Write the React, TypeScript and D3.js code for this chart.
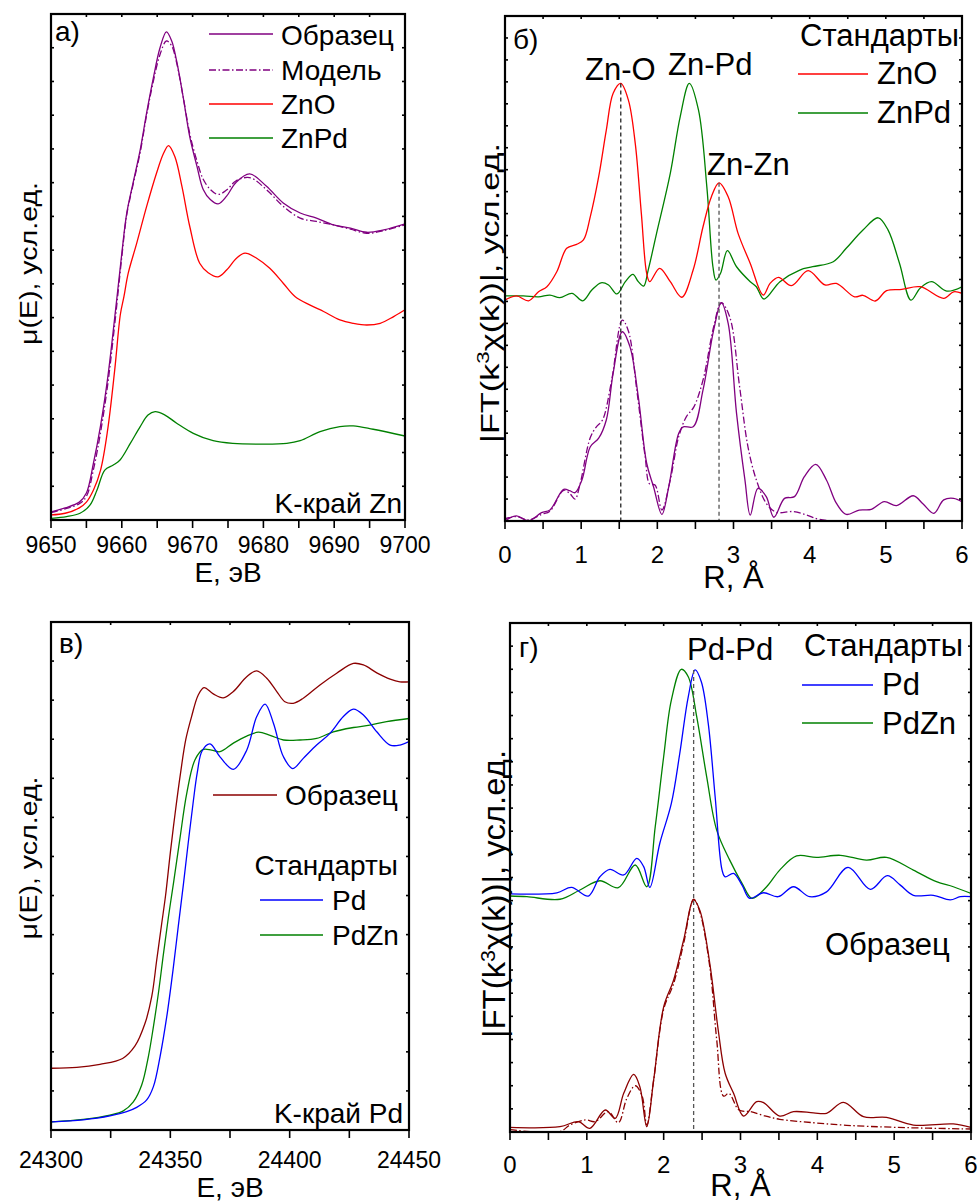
import React from 'react';
import * as d3 from 'd3';

type Pt = [number, number];

// а) XANES, K-край Zn  (E, эВ ; μ(E), усл.ед.)
const aSample: Pt[] = [
  [9650, 0.24], [9652, 0.36], [9654, 0.53], [9655, 0.8], [9656, 1.69], [9657, 2.8], [9658, 4.2],
  [9659, 6.0], [9660, 7.9], [9660.7, 9.1], [9661.6, 10.0], [9662.6, 10.97], [9663.5, 12.06],
  [9664.45, 13.1], [9665.4, 14.0], [9666.3, 14.47], [9667.05, 14.2], [9667.75, 13.6], [9668.7, 12.5],
  [9669.6, 11.36], [9670.6, 10.5], [9671.5, 9.8], [9672.5, 9.5], [9673.6, 9.37], [9674.8, 9.6],
  [9676.1, 10.0], [9678.05, 10.26], [9680.4, 9.9], [9682.8, 9.4], [9685.2, 9.1], [9687.5, 8.95],
  [9689.9, 8.75], [9692.3, 8.65], [9694.6, 8.53], [9697, 8.6], [9700, 8.78],
];
const aModel: Pt[] = [
  [9650, 0.22], [9652, 0.33], [9654, 0.48], [9655, 0.7], [9656, 1.5], [9657, 2.6], [9658, 4.0],
  [9659, 5.8], [9660, 7.8], [9660.7, 9.05], [9661.6, 9.95], [9662.6, 10.9], [9663.5, 12.0],
  [9664.45, 13.0], [9665.4, 13.8], [9666.3, 14.2], [9667.05, 14.05], [9667.75, 13.55], [9668.7, 12.5],
  [9669.6, 11.45], [9670.6, 10.65], [9671.5, 10.1], [9672.5, 9.8], [9673.6, 9.65], [9674.8, 9.78],
  [9676.1, 10.05], [9678.05, 10.15], [9680.4, 9.8], [9682.8, 9.3], [9685.2, 8.95], [9687.5, 8.85],
  [9689.9, 8.75], [9692.3, 8.62], [9694.6, 8.5], [9697, 8.58], [9700, 8.75],
];
const aZnO: Pt[] = [
  [9650, 0.15], [9652, 0.2], [9654, 0.36], [9655, 0.53], [9656, 0.89], [9657, 1.48], [9658, 2.67],
  [9659, 4.45], [9659.8, 6.1], [9660.3, 6.62], [9660.9, 7.31], [9662.1, 8.2], [9663.5, 9.29],
  [9664.9, 10.28], [9665.9, 10.87], [9666.6, 11.1], [9667.5, 10.77], [9668.5, 9.88], [9669.6, 8.7],
  [9671, 7.61], [9672.2, 7.33], [9673.6, 7.21], [9674.8, 7.41], [9676.2, 7.76], [9677.4, 7.91],
  [9679.05, 7.76], [9680.9, 7.46], [9682.8, 7.02], [9684.5, 6.62], [9686.6, 6.37], [9688.5, 6.18],
  [9690.8, 5.93], [9692.7, 5.83], [9694.6, 5.78], [9696.5, 5.83], [9698.4, 6.03], [9700, 6.23],
];
const aZnPd: Pt[] = [
  [9650.1, 0.05], [9652.2, 0.1], [9654.1, 0.2], [9655.5, 0.44], [9656.5, 0.89], [9657.6, 1.48],
  [9658.8, 1.63], [9659.75, 1.78], [9661.2, 2.27], [9662.6, 2.77], [9663.7, 3.11], [9664.7, 3.21],
  [9666.1, 3.11], [9667.75, 2.87], [9670.1, 2.57], [9672.9, 2.35], [9675.7, 2.27], [9679.5, 2.25],
  [9683.3, 2.27], [9685.2, 2.35], [9688, 2.62], [9690.8, 2.77], [9692.7, 2.79], [9695.5, 2.69],
  [9700, 2.49],
];

// б) |FT|, Zn  (R, Å)
const bZnO: Pt[] = [
  [0, 10.06], [0.15, 10.25], [0.31, 10.03], [0.44, 10.44], [0.55, 10.67], [0.68, 11.35], [0.81, 12.42],
  [0.94, 12.6], [1.03, 12.8], [1.12, 13.86], [1.23, 15.68], [1.33, 17.8], [1.42, 19.48], [1.52, 19.93],
  [1.62, 19.17], [1.71, 17.2], [1.79, 14.01], [1.86, 11.28], [1.9, 10.9], [2.03, 11.51], [2.17, 10.9],
  [2.32, 10.19], [2.47, 11.43], [2.6, 13.4], [2.71, 14.77], [2.81, 15.4], [2.93, 14.77], [3.06, 13.1],
  [3.22, 11.73], [3.39, 10.29], [3.48, 10.82], [3.59, 11.1], [3.76, 10.72], [3.98, 11.4], [4.2, 10.75],
  [4.35, 10.82], [4.59, 10.21], [4.7, 10.28], [4.86, 10.02], [5.01, 10.49], [5.21, 10.55], [5.45, 10.67],
  [5.76, 10.14], [5.89, 10.44], [6, 10.37],
];
const bZnPd: Pt[] = [
  [0, 10.25], [0.24, 10.25], [0.44, 10.21], [0.59, 10.29], [0.72, 10.17], [0.88, 10.37], [1.02, 10.03],
  [1.14, 10.52], [1.26, 10.85], [1.36, 10.75], [1.47, 10.34], [1.58, 10.9], [1.68, 11.23], [1.75, 10.9],
  [1.82, 10.7], [1.88, 11.43], [1.99, 13.1], [2.17, 15.83], [2.3, 18.41], [2.42, 19.93], [2.54, 18.72],
  [2.65, 15.22], [2.73, 11.58], [2.77, 10.97], [2.83, 11.28], [2.92, 12.31], [3.04, 11.58], [3.22, 10.9],
  [3.3, 10.67], [3.4, 10.11], [3.61, 10.9], [3.87, 11.43], [4.04, 11.58], [4.31, 11.81], [4.48, 12.42],
  [4.7, 13.25], [4.9, 13.81], [5.03, 13.25], [5.18, 11.73], [5.33, 10.06], [5.45, 10.6], [5.6, 10.9],
  [5.8, 10.47], [6, 10.67],
];
const bSample: Pt[] = [
  [0, 0.01], [0.15, 0.23], [0.31, 0.01], [0.48, 0.38], [0.59, 0.5], [0.77, 1.44], [0.85, 1.38],
  [0.92, 1.29], [1.01, 1.87], [1.12, 3.38], [1.23, 3.77], [1.33, 4.6], [1.42, 6.73], [1.54, 8.62],
  [1.64, 7.94], [1.75, 5.66], [1.86, 2.63], [1.95, 1.56], [2.06, 0.3], [2.15, 1.56], [2.28, 3.99],
  [2.34, 4.29], [2.47, 4.29], [2.6, 5.97], [2.74, 8.7], [2.84, 9.94], [2.93, 9.0], [3.04, 4.9],
  [3.15, 1.87], [3.22, 0.27], [3.32, 1.49], [3.43, 1.11], [3.53, 0.17], [3.67, 1.03], [3.8, 1.11],
  [3.93, 2.02], [4.08, 2.58], [4.22, 1.87], [4.35, 0.81], [4.48, 0.3], [4.65, 0.5], [4.81, 0.53],
  [4.98, 0.88], [5.14, 0.7], [5.36, 1.15], [5.49, 0.77], [5.63, 0.35], [5.76, 0.96], [5.89, 1.03],
  [6, 0.88],
];
const bModel: Pt[] = [
  [0, 0.1], [0.15, 0.2], [0.31, 0.05], [0.48, 0.3], [0.59, 0.45], [0.77, 1.4], [0.85, 1.25],
  [0.92, 1.0], [0.98, 1.6], [1.12, 3.8], [1.2, 4.29], [1.28, 4.6], [1.4, 6.4], [1.54, 9.15],
  [1.62, 8.65], [1.73, 5.97], [1.84, 2.93], [1.9, 1.68], [1.97, 1.64], [2.06, 0.5], [2.17, 1.87],
  [2.28, 3.83], [2.38, 4.74], [2.48, 5.2], [2.6, 6.42], [2.74, 8.85], [2.84, 9.94], [2.95, 9.3],
  [3.08, 6.12], [3.19, 3.38], [3.3, 1.87], [3.43, 0.81], [3.56, 0.4], [3.78, 0.43], [3.96, 0.27],
  [4.13, 0.07], [4.48, 0.0], [6, 0.0],
];
const bRefLines: Pt[] = [[1.52, 19.93], [2.81, 15.4]];

// в) XANES, K-край Pd
const vSample: Pt[] = [
  [24300.3, 1.58], [24310.8, 1.6], [24320.5, 1.68], [24330, 1.83], [24335.2, 2.15], [24339.4, 2.73],
  [24342.2, 3.41], [24344.3, 4.35], [24346.4, 5.29], [24348, 6.0], [24350, 7.1], [24352, 8.1],
  [24354.2, 9.1], [24356.5, 10.0], [24358.9, 10.58], [24361.7, 11.13], [24364.1, 11.32], [24368, 11.16],
  [24372.2, 11.06], [24376.4, 11.22], [24382, 11.6], [24386.2, 11.75], [24390.4, 11.56], [24394.6, 11.22],
  [24398, 10.96], [24401.5, 10.92], [24405.7, 11.05], [24412.7, 11.39], [24419.7, 11.69], [24426.7, 11.94],
  [24430.9, 11.9], [24436.5, 11.7], [24442.1, 11.54], [24446.2, 11.47], [24450, 11.47],
];
const vPd: Pt[] = [
  [24300.3, 0.21], [24313.5, 0.26], [24324.7, 0.36], [24331.7, 0.47], [24335.9, 0.58], [24340.1, 0.77],
  [24342.9, 1.11], [24345.7, 1.88], [24348.5, 2.9], [24351.3, 4.18], [24353.3, 5.2], [24355.5, 6.3],
  [24357.5, 7.35], [24359.5, 8.35], [24361.3, 9.15], [24363.3, 9.7], [24366.6, 9.88], [24370.8, 9.55],
  [24376.4, 9.23], [24382, 9.72], [24386.2, 10.58], [24389.7, 10.9], [24393.2, 10.41], [24397.4, 9.55],
  [24401.3, 9.25], [24405.7, 9.51], [24411.3, 9.85], [24416.9, 10.15], [24422.5, 10.58],
  [24426.7, 10.77], [24430.9, 10.62], [24436.5, 10.19], [24442.1, 9.85], [24446.2, 9.85], [24450, 9.94],
];
const vPdZn: Pt[] = [
  [24300.3, 0.21], [24313.5, 0.27], [24324.7, 0.38], [24330.3, 0.49], [24334.5, 0.72], [24338, 1.15],
  [24340.8, 1.88], [24342.9, 2.64], [24345, 3.5], [24347.1, 4.5], [24349.2, 5.45], [24351.4, 6.35],
  [24354, 7.45], [24356.9, 8.62], [24360.3, 9.47], [24363.8, 9.74], [24367.3, 9.72], [24370.8, 9.68],
  [24376.4, 9.9], [24382, 10.08], [24386.9, 10.18], [24391.8, 10.1], [24397.4, 9.98], [24404.3, 9.98],
  [24411.3, 10.02], [24418.3, 10.19], [24426.7, 10.3], [24433.6, 10.36], [24440.6, 10.45], [24450, 10.53],
];

// г) |FT|, Pd
const gPd: Pt[] = [
  [0, 10.29], [0.61, 10.34], [0.8, 10.57], [1.02, 10.2], [1.17, 11.03], [1.3, 11.35], [1.48, 11.11],
  [1.65, 11.83], [1.74, 11.47], [1.82, 10.57], [1.95, 12.48], [2.1, 14.2], [2.21, 16.37], [2.32, 18.81],
  [2.41, 19.97], [2.49, 19.46], [2.58, 17.66], [2.67, 14.49], [2.76, 11.32], [2.8, 11.03], [2.91, 11.18],
  [3.02, 10.67], [3.12, 10.1], [3.3, 10.34], [3.49, 10.17], [3.69, 10.6], [3.9, 10.17], [4.12, 10.38],
  [4.4, 11.44], [4.69, 10.49], [4.91, 11.08], [5.08, 10.67], [5.25, 10.23], [5.51, 10.23], [5.73, 10.03],
  [5.86, 10.17], [6, 10.17],
];
const gPdZn: Pt[] = [
  [0, 10.2], [0.22, 10.17], [0.65, 10.06], [0.91, 10.46], [1.17, 10.86], [1.41, 10.56], [1.63, 11.54],
  [1.78, 10.6], [1.89, 13.19], [2.0, 16.22], [2.1, 18.67], [2.23, 20.0], [2.32, 19.68], [2.43, 17.95],
  [2.56, 15.35], [2.69, 13.05], [2.86, 11.75], [3.02, 10.75], [3.15, 10.1], [3.34, 10.6], [3.51, 11.32],
  [3.73, 11.93], [3.99, 11.87], [4.3, 11.96], [4.64, 11.75], [4.9, 11.87], [5.25, 11.32], [5.55, 10.82],
  [5.77, 10.6], [6, 10.31],
];
const gSample: Pt[] = [
  [0, 0.2], [0.65, 0.23], [0.89, 0.45], [1.04, 0.16], [1.24, 0.95], [1.37, 0.59], [1.48, 1.67],
  [1.61, 2.49], [1.69, 1.96], [1.78, 0.23], [1.87, 2.25], [2.0, 5.41], [2.13, 6.57], [2.26, 8.3],
  [2.39, 10.03], [2.47, 9.59], [2.6, 7.29], [2.71, 4.41], [2.8, 2.54], [2.91, 1.67], [3.04, 0.69],
  [3.21, 1.31], [3.3, 1.27], [3.51, 0.69], [3.69, 0.88], [3.95, 0.83], [4.12, 0.81], [4.34, 1.28],
  [4.6, 0.66], [4.9, 0.63], [5.25, 0.3], [5.77, 0.35], [6, 0.2],
];
const gModel: Pt[] = [
  [0, 0.1], [0.65, 0.02], [0.78, 0.3], [0.98, 0.52], [1.11, 0.45], [1.28, 0.88], [1.41, 0.4],
  [1.52, 1.45], [1.63, 2.0], [1.72, 1.55], [1.78, 0.3], [1.87, 2.25], [2.0, 5.3], [2.13, 6.42],
  [2.26, 8.15], [2.39, 10.06], [2.47, 9.52], [2.6, 7.15], [2.69, 4.0], [2.78, 1.55], [2.85, 1.67],
  [2.98, 0.95], [3.13, 0.88], [3.3, 0.71], [3.51, 0.55], [3.95, 0.4], [4.38, 0.29], [5.03, 0.2],
  [6, 0.13],
];
const gRefLines: Pt[] = [[2.39, 19.97]];

const FONT = '"Liberation Sans", Arial, sans-serif';
const PURPLE = '#800080';
const RED = '#ff0000';
const GREEN = '#008000';
const BLUE = '#0000ff';
const DARKRED = '#8b0000';
const DASHDOT = '7,2.5,1.5,2.5';

type Box = { l: number; r: number; t: number; b: number };
type Series = { data: Pt[]; color: string; dash?: string };
type Scale = d3.ScaleLinear<number, number>;

function Panel(props: {
  id: string;
  box: Box;
  xDomain: [number, number];
  yMax: number;
  xMajor: number;
  xMinor: number;
  tickY: number;
  tickSize: number;
  title: React.ReactNode;
  titleY: number;
  titleSize: number;
  yLabel: React.ReactNode;
  yLabelX: number;
  yLabelCY: number;
  yLabelLen: number;
  yLabelSize: number;
  series: Series[];
  extra?: (x: Scale, y: Scale) => React.ReactNode;
}) {
  const { box, xDomain, yMax } = props;
  const x = d3.scaleLinear().domain(xDomain).range([box.l, box.r]);
  const y = d3.scaleLinear().domain([0, yMax]).range([box.b, box.t]);
  const line = d3
    .line<Pt>()
    .x((d) => x(d[0]))
    .y((d) => y(d[1]))
    .curve(d3.curveCatmullRom.alpha(0.5));
  const majors = d3.range(xDomain[0], xDomain[1] + 1e-6, props.xMajor);
  const minors = d3.range(xDomain[0], xDomain[1] + 1e-6, props.xMinor);
  const yTicks = d3.range(0, yMax + 1e-6, 1);
  const clip = `clip-${props.id}`;

  return (
    <g>
      <defs>
        <clipPath id={clip}>
          <rect x={box.l} y={box.t} width={box.r - box.l} height={box.b - box.t} />
        </clipPath>
      </defs>
      <g clipPath={`url(#${clip})`}>
        {props.series.map((s, i) => (
          <path
            key={i}
            d={line(s.data) || ''}
            fill="none"
            stroke={s.color}
            strokeWidth={1.3}
            strokeDasharray={s.dash}
          />
        ))}
      </g>
      {props.extra && props.extra(x, y)}
      <g stroke="#000" strokeWidth={1.6}>
        {minors.map((v) => (
          <line key={'b' + v} x1={x(v)} x2={x(v)} y1={box.b} y2={box.b + 8} />
        ))}
        {minors.map((v) => (
          <line key={'t' + v} x1={x(v)} x2={x(v)} y1={box.t} y2={box.t + 3} />
        ))}
        {yTicks.map((v) => (
          <line key={'l' + v} x1={box.l} x2={box.l + 3} y1={y(v)} y2={y(v)} />
        ))}
        {yTicks.map((v) => (
          <line key={'r' + v} x1={box.r - 3} x2={box.r} y1={y(v)} y2={y(v)} />
        ))}
      </g>
      <rect
        x={box.l}
        y={box.t}
        width={box.r - box.l}
        height={box.b - box.t}
        fill="none"
        stroke="#000"
        strokeWidth={2.2}
      />
      {majors.map((v) => (
        <text key={'tl' + v} x={x(v)} y={props.tickY} textAnchor="middle" fontSize={props.tickSize}>
          {d3.format('d')(v)}
        </text>
      ))}
      <text x={(box.l + box.r) / 2} y={props.titleY} textAnchor="middle" fontSize={props.titleSize}>
        {props.title}
      </text>
      <text
        transform={`translate(${props.yLabelX},${props.yLabelCY}) rotate(-90)`}
        textAnchor="middle"
        fontSize={props.yLabelSize}
        textLength={props.yLabelLen}
        lengthAdjust="spacingAndGlyphs"
      >
        {props.yLabel}
      </text>
    </g>
  );
}

function LegendLine(p: { x1: number; x2: number; y: number; color: string; dash?: string }) {
  return <line x1={p.x1} x2={p.x2} y1={p.y} y2={p.y} stroke={p.color} strokeWidth={1.3} strokeDasharray={p.dash} />;
}

function RefLines(p: { pts: Pt[]; x: Scale; y: Scale; colors: string[] }) {
  return (
    <g>
      {p.pts.map((d, i) => (
        <line
          key={i}
          x1={p.x(d[0])}
          x2={p.x(d[0])}
          y1={p.y(d[1])}
          y2={p.y(0)}
          stroke={p.colors[i % p.colors.length]}
          strokeWidth={1.3}
          strokeDasharray="4,3"
        />
      ))}
    </g>
  );
}

const ftLabel = (
  <>
    |FT(k<tspan dy={-10} fontSize="0.65em">3</tspan>
    <tspan dy={10}>χ(k))|, усл.ед.</tspan>
  </>
);

export default function App() {
  return (
    <svg
      width={977}
      height={1203}
      style={{ position: 'absolute', left: 0, top: 0, background: '#fff' }}
      fontFamily={FONT}
      fill="#000"
    >
      {/* а) */}
      <Panel
        id="a"
        box={{ l: 51, r: 405, t: 14, b: 520 }}
        xDomain={[9650, 9700]}
        yMax={15}
        xMajor={10}
        xMinor={5}
        tickY={553}
        tickSize={23}
        title="E, эВ"
        titleY={582}
        titleSize={28}
        yLabel="μ(E), усл.ед."
        yLabelX={37}
        yLabelCY={263.5}
        yLabelLen={163}
        yLabelSize={23}
        series={[
          { data: aZnPd, color: GREEN },
          { data: aZnO, color: RED },
          { data: aModel, color: PURPLE, dash: DASHDOT },
          { data: aSample, color: PURPLE },
        ]}
      />
      <g fontSize={28}>
        <text x={55} y={41}>а)</text>
        <LegendLine x1={209} x2={273} y={34} color={PURPLE} />
        <text x={281} y={45}>Образец</text>
        <LegendLine x1={209} x2={273} y={70} color={PURPLE} dash={DASHDOT} />
        <text x={281} y={80}>Модель</text>
        <LegendLine x1={209} x2={273} y={104} color={RED} />
        <text x={281} y={114}>ZnO</text>
        <LegendLine x1={209} x2={273} y={138} color={GREEN} />
        <text x={281} y={148}>ZnPd</text>
        <text x={402} y={513} textAnchor="end">K-край Zn</text>
      </g>

      {/* б) */}
      <Panel
        id="b"
        box={{ l: 505, r: 962, t: 16, b: 521 }}
        xDomain={[0, 6]}
        yMax={23}
        xMajor={1}
        xMinor={0.5}
        tickY={563}
        tickSize={24}
        title="R, Å"
        titleY={588}
        titleSize={31}
        yLabel={ftLabel}
        yLabelX={499}
        yLabelCY={293}
        yLabelLen={300}
        yLabelSize={25}
        series={[
          { data: bZnPd, color: GREEN },
          { data: bZnO, color: RED },
          { data: bModel, color: PURPLE, dash: DASHDOT },
          { data: bSample, color: PURPLE },
        ]}
        extra={(x, y) => <RefLines pts={bRefLines} x={x} y={y} colors={['#222', '#555']} />}
      />
      <g fontSize={31}>
        <text x={513} y={49} fontSize={28}>б)</text>
        <text x={585} y={80}>Zn-O</text>
        <text x={668} y={75}>Zn-Pd</text>
        <text x={707} y={175}>Zn-Zn</text>
        <text x={959} y={46} textAnchor="end">Стандарты</text>
        <LegendLine x1={798} x2={868} y={74} color={RED} />
        <text x={877} y={84}>ZnO</text>
        <LegendLine x1={798} x2={868} y={113} color={GREEN} />
        <text x={877} y={123}>ZnPd</text>
      </g>

      {/* в) */}
      <Panel
        id="v"
        box={{ l: 51, r: 409, t: 622, b: 1130 }}
        xDomain={[24300, 24450]}
        yMax={13}
        xMajor={50}
        xMinor={25}
        tickY={1168}
        tickSize={23}
        title="E, эВ"
        titleY={1197}
        titleSize={28}
        yLabel="μ(E), усл.ед."
        yLabelX={37}
        yLabelCY={858}
        yLabelLen={163}
        yLabelSize={23}
        series={[
          { data: vPdZn, color: GREEN },
          { data: vPd, color: BLUE },
          { data: vSample, color: DARKRED },
        ]}
      />
      <g fontSize={28}>
        <text x={59} y={653}>в)</text>
        <LegendLine x1={213} x2={277} y={795} color={DARKRED} />
        <text x={285} y={805}>Образец</text>
        <text x={398} y={875} textAnchor="end">Стандарты</text>
        <LegendLine x1={260} x2={323} y={900} color={BLUE} />
        <text x={332} y={910}>Pd</text>
        <LegendLine x1={260} x2={323} y={935} color={GREEN} />
        <text x={332} y={945}>PdZn</text>
        <text x={403} y={1123} textAnchor="end">K-край Pd</text>
      </g>

      {/* г) */}
      <Panel
        id="g"
        box={{ l: 510, r: 971, t: 623, b: 1132 }}
        xDomain={[0, 6]}
        yMax={22}
        xMajor={1}
        xMinor={0.5}
        tickY={1173}
        tickSize={24}
        title="R, Å"
        titleY={1196}
        titleSize={31}
        yLabel={ftLabel}
        yLabelX={505}
        yLabelCY={894}
        yLabelLen={288}
        yLabelSize={32}
        series={[
          { data: gPdZn, color: GREEN },
          { data: gPd, color: BLUE },
          { data: gModel, color: DARKRED, dash: DASHDOT },
          { data: gSample, color: DARKRED },
        ]}
        extra={(x, y) => <RefLines pts={gRefLines} x={x} y={y} colors={['#555']} />}
      />
      <g fontSize={31}>
        <text x={519} y={657} fontSize={28}>г)</text>
        <text x={687} y={660}>Pd-Pd</text>
        <text x={963} y={656} textAnchor="end">Стандарты</text>
        <LegendLine x1={802} x2={873} y={685} color={BLUE} />
        <text x={882} y={695}>Pd</text>
        <LegendLine x1={802} x2={873} y={723} color={GREEN} />
        <text x={882} y={734}>PdZn</text>
        <text x={825} y={955}>Образец</text>
      </g>
    </svg>
  );
}
